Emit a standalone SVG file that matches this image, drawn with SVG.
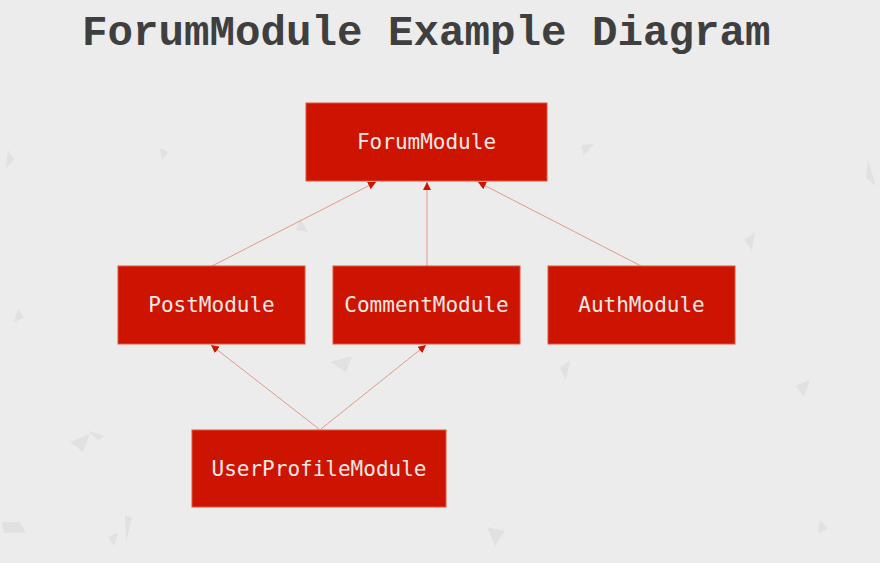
<svg xmlns="http://www.w3.org/2000/svg" width="880" height="563" viewBox="0 0 880 563">
  <style>
    .box { fill: #cc1400; stroke: #e2553c; stroke-width: 1; }
    .lbl { font-family: "DejaVu Sans Mono", "Liberation Mono", monospace; font-size: 21px; fill: #f6e8e4; text-anchor: middle; dominant-baseline: central; }
    .title { font-family: "Liberation Mono", "DejaVu Sans Mono", monospace; font-weight: bold; font-size: 42.5px; fill: #3f3f3f; }
    .edge { stroke: #e29a88; stroke-width: 1; fill: none; marker-end: url(#arr); }
    .shard { fill: #e1e1e1; }
  </style>
  <defs>
    <marker id="arr" viewBox="0 0 10 10" refX="10" refY="5" markerWidth="8" markerHeight="8" markerUnits="userSpaceOnUse" orient="auto">
      <path d="M0,0 L10,5 L0,10 Z" fill="#cc1400"/>
    </marker>
  </defs>
  <rect width="880" height="563" fill="#ececec"/>
  <g id="background">
    <polygon class="shard" points="70,442 90,434 83,452" />
    <polygon class="shard" points="88,431 105,436 98,440" />
    <polygon class="shard" points="2,522 20,522 26,533 4,533" />
    <polygon class="shard" points="125,515 132,518 126,542" />
    <polygon class="shard" points="108,537 118,533 114,546" />
    <polygon class="shard" points="487,527 505,531 495,546" />
    <polygon class="shard" points="582,145 594,144 583,156" />
    <polygon class="shard" points="160,148 168,152 162,160" />
    <polygon class="shard" points="8,150 14,160 6,168" />
    <polygon class="shard" points="820,520 828,528 818,534" />
    <polygon class="shard" points="744,240 755,232 752,250" />
    <polygon class="shard" points="868,160 876,186 866,178" />
    <polygon class="shard" points="330,362 352,356 346,372" />
    <polygon class="shard" points="560,368 570,360 566,380" />
    <polygon class="shard" points="795,386 810,380 804,396" />
    <polygon class="shard" points="300,218 308,232 296,230" />
    <polygon class="shard" points="18,308 24,318 14,322" />
  </g>
  <text class="title" x="82" y="45">ForumModule Example Diagram</text>
  <g id="connectors">
    <line class="edge" x1="212" y1="266" x2="376" y2="182"/>
    <line class="edge" x1="427" y1="266" x2="427" y2="182"/>
    <line class="edge" x1="641" y1="266" x2="478" y2="182"/>
    <line class="edge" x1="319" y1="429" x2="211" y2="345"/>
    <line class="edge" x1="321" y1="429" x2="426" y2="345"/>
  </g>
  <g id="ForumModule">
    <rect class="box" x="306" y="103" width="241" height="78"/>
    <text class="lbl" x="426.5" y="142">ForumModule</text>
  </g>
  <g id="PostModule">
    <rect class="box" x="118" y="266" width="187" height="78"/>
    <text class="lbl" x="211.5" y="305">PostModule</text>
  </g>
  <g id="CommentModule">
    <rect class="box" x="333" y="266" width="187" height="78"/>
    <text class="lbl" x="426.5" y="305">CommentModule</text>
  </g>
  <g id="AuthModule">
    <rect class="box" x="548" y="266" width="187" height="78"/>
    <text class="lbl" x="641.5" y="305">AuthModule</text>
  </g>
  <g id="UserProfileModule">
    <rect class="box" x="192" y="430" width="254" height="77"/>
    <text class="lbl" x="319" y="468.5">UserProfileModule</text>
  </g>
</svg>
